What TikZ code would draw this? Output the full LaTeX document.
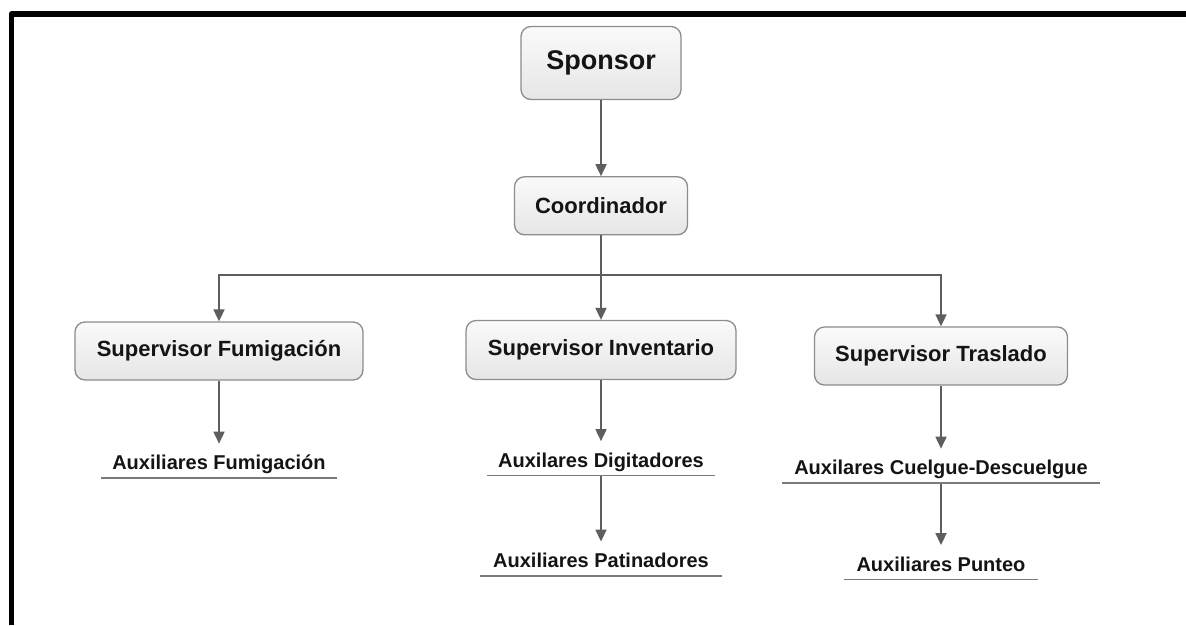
\documentclass[tikz,border=0pt]{standalone}
\usepackage{fontspec}
\setmainfont{Liberation Sans}
\usepackage{tikz}
\usetikzlibrary{positioning, arrows.meta}

\definecolor{boxline}{HTML}{8C8C8C}
\definecolor{boxtop}{HTML}{FAFAFA}
\definecolor{boxbot}{HTML}{E6E6E6}
\definecolor{linkgray}{HTML}{5E5E5E}
\definecolor{rulegray}{HTML}{7A7A7A}
\definecolor{ink}{HTML}{141414}

\tikzset{
	role/.style={draw=boxline, line width=1.3pt, rounded corners=10pt,
		top color=boxtop, bottom color=boxbot, text=ink,
		font=\fontsize{22}{26}\selectfont\bfseries, minimum height=58pt, inner sep=0pt},
	aux/.style={text=ink, font=\fontsize{20}{24}\selectfont\bfseries,
		text height=26pt, text depth=8pt, inner sep=0pt},
	link/.style={draw=linkgray, line width=1.8pt, -{Triangle[width=11pt,length=12pt]}},
	rule/.style={draw=rulegray, line width=1.6pt}
}

\begin{document}
\begin{tikzpicture}[x=1pt, y=-1pt]
					\useasboundingbox (0,0) rectangle (1186,625);
					\draw[line width=5.5pt, line join=round] (11.5,625) -- (11.5,14) -- (1186,14);
					
					\node[role, minimum width=160pt, minimum height=73pt, font=\fontsize{27}{32}\selectfont\bfseries] (sponsor) at (601,63) {Sponsor};
					\node[role, minimum width=173pt, below=76pt of sponsor] (coord) {Coordinador};
					\node[role, minimum width=288pt] (supF) at (219,351) {Supervisor Fumigación};
					\node[role, minimum width=270pt, minimum height=59pt] (supI) at (601,350) {Supervisor Inventario};
					\node[role, minimum width=253pt] (supT) at (941,356) {Supervisor Traslado};
					
					\node[aux, minimum width=235pt, below=63pt of supF] (auxF) {Auxiliares Fumigación};
					\node[aux, minimum width=228pt, below=61pt of supI] (auxD) {Auxilares Digitadores};
					\node[aux, minimum width=242pt, below=66pt of auxD] (auxP) {Auxiliares Patinadores};
					\node[aux, minimum width=318pt, below=63pt of supT] (auxC) {Auxilares Cuelgue-Descuelgue};
					\node[aux, minimum width=193pt, below=62pt of auxC] (auxPu) {Auxiliares Punteo};
					
					\coordinate (bus) at (601,275);
					
					\draw[link] (sponsor) -- (coord);
					\draw[link] (coord) -- (supI);
					\draw[link] (bus) -| (supF.north);
					\draw[link] (bus) -| (supT.north);
					\draw[link] (supF) -- (auxF);
					\draw[link] (supI) -- (auxD);
					\draw[link] (auxD) -- (auxP);
					\draw[link] (supT) -- (auxC);
					\draw[link] (auxC) -- (auxPu);
					
					\draw[rule] (auxF.south west) -- (auxF.south east);
					\draw[rule] (auxD.south west) -- (auxD.south east);
					\draw[rule] (auxP.south west) -- (auxP.south east);
					\draw[rule] (auxC.south west) -- (auxC.south east);
					\draw[rule] (auxPu.south west) -- (auxPu.south east);
				\end{tikzpicture}
\end{document}
